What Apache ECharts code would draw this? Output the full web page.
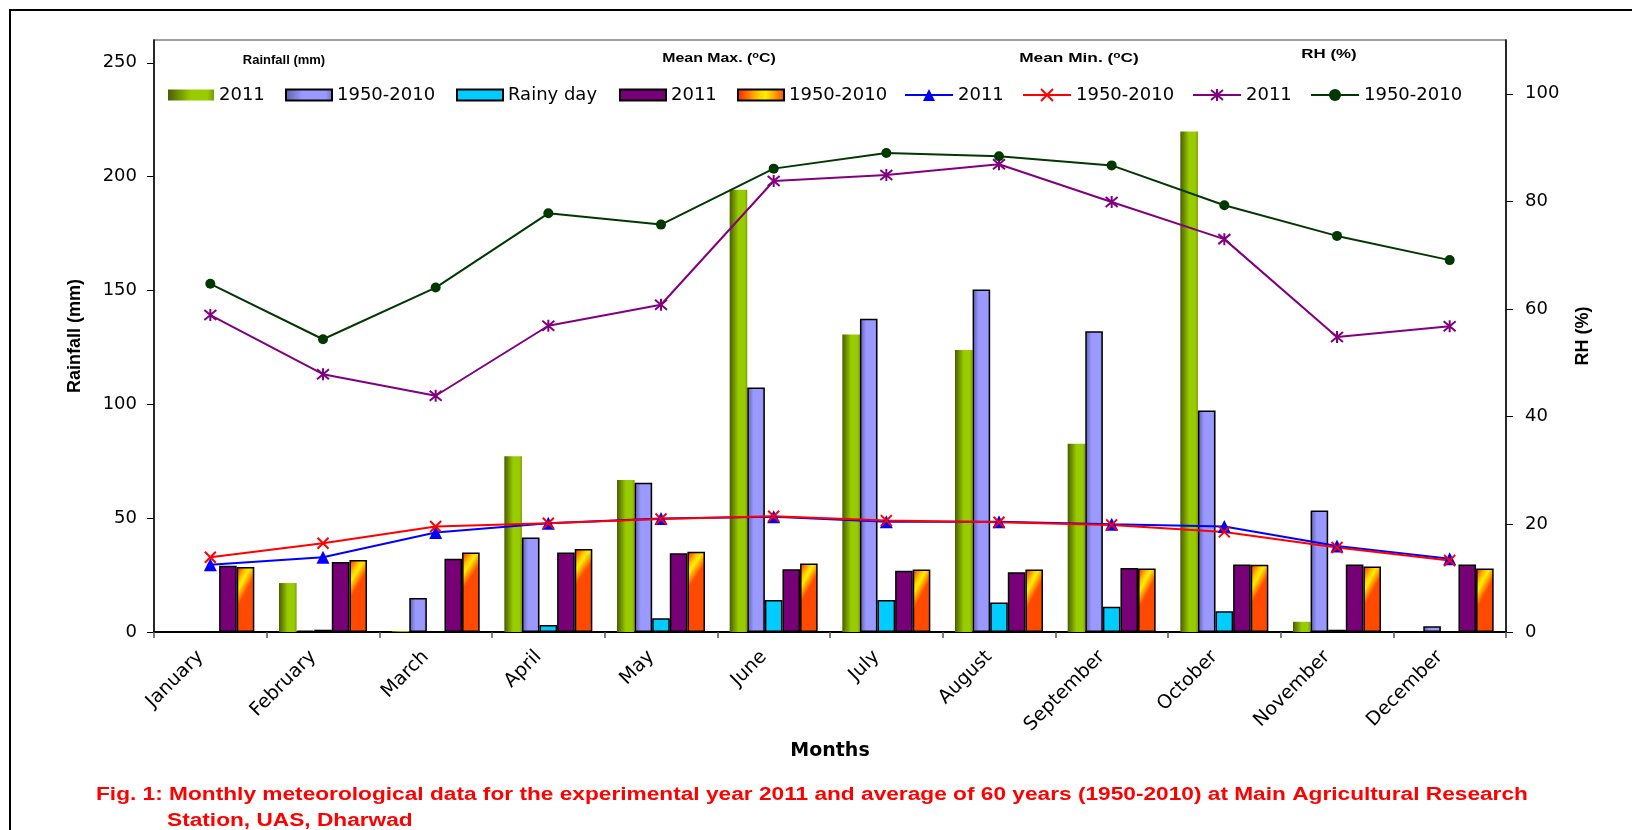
<!DOCTYPE html>
<html lang="en">
<head>
    <meta charset="utf-8">
    <script src="https://cdn.jsdelivr.net/npm/echarts@6.0.0/dist/echarts.min.js"></script>
    <title>Monthly meteorological data - Dharwad</title>
    <style>
        html, body { margin: 0; padding: 0; background: #fff; }
        #container { width: 1632px; height: 830px; }
    </style>
</head>
<body>
<div id="container"></div>

<script type="text/javascript">
    // data
    const months = ['January', 'February', 'March', 'April', 'May', 'June', 'July', 'August', 'September', 'October', 'November', 'December'];
    const rain2011 = [0, 21.5, 0.4, 77.2, 66.8, 194.2, 130.7, 123.9, 82.7, 219.8, 4.5, 0];
    const rainNormal = [0, 0.6, 14.9, 41.5, 65.6, 107.4, 137.6, 150.4, 132.1, 97.3, 53.4, 2.5];
    const rainyDay = [0, 1.0, 0, 3.1, 6.0, 14.0, 14.0, 13.0, 11.1, 9.1, 1.0, 0];
    const maxT2011 = [29.1, 30.7, 32.2, 34.9, 34.6, 27.6, 26.9, 26.2, 28.1, 29.7, 29.7, 29.7];
    const maxTNormal = [28.5, 31.6, 34.9, 36.4, 35.2, 30.1, 27.5, 27.5, 27.9, 29.5, 28.8, 27.9];
    const minT2011 = [12.5, 13.9, 18.5, 20.2, 21.1, 21.4, 20.5, 20.5, 20.0, 19.6, 16.0, 13.6];
    const minTNormal = [13.9, 16.5, 19.6, 20.2, 21.0, 21.5, 20.7, 20.4, 19.9, 18.6, 15.7, 13.3];
    const rh2011 = [58.9, 47.9, 43.9, 56.9, 60.8, 83.8, 84.9, 86.9, 79.9, 73.0, 54.8, 56.8];
    const rhNormal = [64.7, 54.4, 64.0, 77.8, 75.7, 86.1, 89.0, 88.4, 86.7, 79.3, 73.6, 69.1];
    const leftTicks = [0, 50, 100, 150, 200, 250];
    const rightTicks = [0, 20, 40, 60, 80, 100];

    const dom = document.getElementById('container');
    var myChart = echarts.init(dom, null, {renderer: 'canvas'});

    const sans = "'Liberation Sans', Arial, sans-serif";
    const wide = "'DejaVu Sans', sans-serif";

    function hgrad(stops) {
        return {
            type: 'linear', x: 0, y: 0, x2: 1, y2: 0,
            colorStops: stops.map(s => ({offset: s[0], color: s[1]}))
        };
    }

    const green = hgrad([[0, '#4a5e00'], [0.5, '#99cc00'], [0.85, '#99cc00'], [1, '#7a9e00']]);
    const lavender = hgrad([[0, '#5c5ca8'], [0.35, '#9999ff'], [0.85, '#9999ff'], [1, '#6e6ebd']]);
    const fire = {
        type: 'linear', x: 0, y: 0, x2: 1, y2: 0.15,
        colorStops: [
            {offset: 0, color: '#ff1a00'},
            {offset: 0.45, color: '#ffcc00'},
            {offset: 0.6, color: '#ffee00'},
            {offset: 1, color: '#ff4a00'}
        ]
    };

    const crossPath = 'path://M0,0L10,10M10,0L0,10';
    const starPath = 'path://M0,1L10,11M10,1L0,11M5,0L5,12';

    // series name -> label shown in the legend
    const labels = {
        'Rainfall 2011': '2011',
        'Rainfall 1950-2010': '1950-2010',
        'Rainy day': 'Rainy day',
        'Max 2011': '2011',
        'Max 1950-2010': '1950-2010',
        'Min 2011': '2011',
        'Min 1950-2010': '1950-2010',
        'RH 2011': '2011',
        'RH 1950-2010': '1950-2010'
    };
    const legendLeft = [168, 285, 456, 619, 737, 904, 1022, 1192, 1310];

    const legends = Object.keys(labels).map(function (name, i) {
        const isBar = i < 5;
        return {
            data: [name],
            left: legendLeft[i],
            top: 86,
            padding: 0,
            selectedMode: false,
            icon: isBar ? 'rect' : undefined,
            itemWidth: isBar ? 46 : 48,
            itemHeight: isBar ? 11 : 15,
            itemGap: 0,
            formatter: function (n) { return labels[n]; },
            textStyle: {fontFamily: wide, fontSize: 18, color: '#000'}
        };
    });

    function barSeries(name, data, color, border) {
        return {
            name: name,
            type: 'bar',
            data: data,
            barWidth: 17.6,
            barGap: '0%',
            itemStyle: {
                color: color,
                borderColor: '#000',
                borderWidth: border ? 1.5 : 0
            }
        };
    }

    function lineSeries(name, data, color, symbol, size) {
        return {
            name: name,
            type: 'line',
            yAxisIndex: 1,
            data: data,
            z: 4,
            symbol: symbol,
            symbolSize: size,
            showAllSymbol: true,
            lineStyle: {color: color, width: 2},
            itemStyle: {color: color, borderColor: color, borderWidth: symbol.indexOf('path') === 0 ? 2 : 0}
        };
    }

    function header(text, x, y, stretch) {
        return {
            type: 'text', x: x, y: y, scaleX: stretch,
            style: {
                text: text, align: 'center', verticalAlign: 'middle',
                font: 'bold 13px ' + sans, fill: '#000',
                rich: {sup: {font: 'bold 9px ' + sans, verticalAlign: 'top', fill: '#000'}}
            }
        };
    }

    var option = {
        animation: false,
        backgroundColor: '#fff',
        legend: legends,
        grid: {
            left: 154, right: 126, top: 40, bottom: 198,
            show: true,
            borderColor: '#808080',
            borderWidth: 1.5,
            outerBoundsMode: 'none'
        },
        xAxis: {
            type: 'category',
            data: months,
            boundaryGap: true,
            name: 'Months',
            nameLocation: 'middle',
            nameGap: 108,
            nameTextStyle: {fontFamily: wide, fontWeight: 'bold', fontSize: 19, color: '#000'},
            axisLine: {lineStyle: {color: '#000', width: 2}},
            axisTick: {show: true, length: 6, lineStyle: {color: '#555', width: 1.5}},
            axisLabel: {
                rotate: 45, margin: 12, interval: 0,
                padding: [0, 14, 0, 0],
                fontFamily: wide, fontSize: 19, color: '#000'
            },
            splitLine: {show: false}
        },
        yAxis: [
            {
                type: 'value',
                min: 0, max: 260, interval: 50,
                name: 'Rainfall (mm)',
                nameLocation: 'middle',
                nameRotate: 90,
                nameGap: 70,
                nameTextStyle: {fontFamily: sans, fontWeight: 'bold', fontSize: 18, color: '#000'},
                axisLine: {show: true, lineStyle: {color: '#000', width: 1.5}},
                axisTick: {show: true, length: 7, customValues: leftTicks, lineStyle: {color: '#000'}},
                axisLabel: {margin: 17, customValues: leftTicks, fontFamily: wide, fontSize: 18, color: '#000'},
                splitLine: {show: false}
            },
            {
                type: 'value',
                min: 0, max: 110, interval: 20,
                position: 'right',
                name: 'RH (%)',
                nameLocation: 'middle',
                nameRotate: 90,
                nameGap: 68,
                nameTextStyle: {fontFamily: sans, fontWeight: 'bold', fontSize: 18, color: '#000'},
                axisLine: {show: true, lineStyle: {color: '#000', width: 1.5}},
                axisTick: {show: true, length: 7, customValues: rightTicks, lineStyle: {color: '#000'}},
                axisLabel: {margin: 19, customValues: rightTicks, fontFamily: wide, fontSize: 18, color: '#000'},
                splitLine: {show: false}
            }
        ],
        series: [
            barSeries('Rainfall 2011', rain2011, green, false),
            barSeries('Rainfall 1950-2010', rainNormal, lavender, true),
            barSeries('Rainy day', rainyDay, '#00ccff', true),
            barSeries('Max 2011', maxT2011, '#770077', true),
            barSeries('Max 1950-2010', maxTNormal, fire, true),
            lineSeries('Min 2011', minT2011, '#0000ff', 'triangle', 13),
            lineSeries('Min 1950-2010', minTNormal, '#ff0000', crossPath, 11),
            lineSeries('RH 2011', rh2011, '#800080', starPath, 12),
            lineSeries('RH 1950-2010', rhNormal, '#003800', 'circle', 10)
        ],
        graphic: [
            {
                type: 'rect', z: -10, silent: true,
                shape: {x: 10, y: 10, width: 1700, height: 900},
                style: {fill: 'none', stroke: '#000', lineWidth: 2}
            },
            header('Rainfall (mm)', 284, 60, 1),
            header('Mean Max. ({sup|o}C)', 719, 58, 1.22),
            header('Mean Min. ({sup|o}C)', 1079, 58, 1.33),
            header('RH (%)', 1329, 54, 1.3),
            {
                type: 'text', x: 96, y: 786, scaleX: 1.26,
                style: {
                    text: 'Fig. 1: Monthly meteorological data for the experimental year 2011 and average of 60 years (1950-2010) at Main Agricultural Research',
                    font: 'bold 18px ' + sans, fill: '#ff0000'
                }
            },
            {
                type: 'text', x: 167, y: 812, scaleX: 1.26,
                style: {text: 'Station, UAS, Dharwad', font: 'bold 18px ' + sans, fill: '#ff0000'}
            }
        ]
    };

    myChart.setOption(option);

    window.onresize = function () {
        myChart.resize();
    };
</script>
</body>
</html>
